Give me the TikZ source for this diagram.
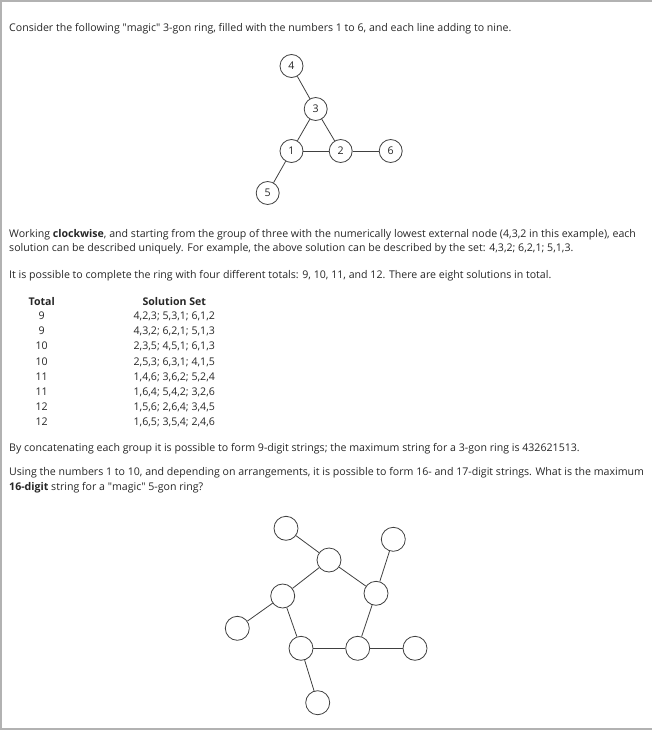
\documentclass[tikz,border=0pt]{standalone}
\usepackage{fontspec}
\setmainfont{Open Sans}
\newcommand{\bodyfont}{\fontsize{10.6bp}{12.5bp}\selectfont}
\newcommand{\qq}{\textquotedbl}
\begin{document}
\begin{tikzpicture}[x=1bp,y=-1bp,
  txt/.style={anchor=base west, inner sep=0, font=\bodyfont, text=black!85},
  ctxt/.style={anchor=base, inner sep=0, font=\bodyfont, text=black!85},
  cnode/.style={circle, draw=black!75, line width=0.8bp, fill=white, minimum size=23bp, inner sep=0, font=\bodyfont, text=black!85},
  link/.style={draw=black!75, line width=0.8bp}]
\useasboundingbox (0,0) rectangle (652,730);
\draw[black!30, line width=1.5bp] (652,1) -- (0.75,1) -- (0.75,729) -- (652,729);

\node[txt] (t1) at (9,31.5) {Consider the following \qq magic\qq{} 3-gon ring, filled with the numbers 1 to 6, and each line adding to nine.};

% 3-gon ring
\node[cnode] (n4) at (291.5,66) {4};
\node[cnode] (n3) at (315.7,109) {3};
\node[cnode] (n1) at (291.5,151) {1};
\node[cnode] (n2) at (340.7,151) {2};
\node[cnode] (n6) at (390.7,151) {6};
\node[cnode] (n5) at (267.7,193) {5};
\draw[link] (n4) -- (n3);
\draw[link] (n3) -- (n2);
\draw[link] (n3) -- (n1);
\draw[link] (n1) -- (n2);
\draw[link] (n2) -- (n6);
\draw[link] (n1) -- (n5);

\node[txt] (t2) at (9,237) {Working \textbf{clockwise}, and starting from the group of three with the numerically lowest external node (4,3,2 in this example), each};
\node[txt] (t3) at (9,251.3) {solution can be described uniquely. For example, the above solution can be described by the set: 4,3,2; 6,2,1; 5,1,3.};
\node[txt] (t4) at (9,278.7) {It is possible to complete the ring with four different totals: 9, 10, 11, and 12. There are eight solutions in total.};

% table
\node[ctxt] (h1) at (41.7,305.7) {\textbf{Total}};
\node[ctxt] (h2) at (174.3,305.7) {\textbf{Solution Set}};
\node[ctxt] (r1a) at (41.7,319.3) {9};  \node[ctxt] (r1b) at (174.3,319.3) {4,2,3; 5,3,1; 6,1,2};
\node[ctxt] (r2a) at (41.7,334.6) {9};  \node[ctxt] (r2b) at (174.3,334.6) {4,3,2; 6,2,1; 5,1,3};
\node[ctxt] (r3a) at (41.7,349.9) {10}; \node[ctxt] (r3b) at (174.3,349.9) {2,3,5; 4,5,1; 6,1,3};
\node[ctxt] (r4a) at (41.7,365.0) {10}; \node[ctxt] (r4b) at (174.3,365.0) {2,5,3; 6,3,1; 4,1,5};
\node[ctxt] (r5a) at (41.7,380.0) {11}; \node[ctxt] (r5b) at (174.3,380.0) {1,4,6; 3,6,2; 5,2,4};
\node[ctxt] (r6a) at (41.7,395.0) {11}; \node[ctxt] (r6b) at (174.3,395.0) {1,6,4; 5,4,2; 3,2,6};
\node[ctxt] (r7a) at (41.7,410.0) {12}; \node[ctxt] (r7b) at (174.3,410.0) {1,5,6; 2,6,4; 3,4,5};
\node[ctxt] (r8a) at (41.7,425.0) {12}; \node[ctxt] (r8b) at (174.3,425.0) {1,6,5; 3,5,4; 2,4,6};

\node[txt] (t5) at (9,451) {By concatenating each group it is possible to form 9-digit strings; the maximum string for a 3-gon ring is 432621513.};
\node[txt] (t6) at (9,475.3) {Using the numbers 1 to 10, and depending on arrangements, it is possible to form 16- and 17-digit strings. What is the maximum};
\node[txt] (t7) at (9,490.3) {\textbf{16-digit} string for a \qq magic\qq{} 5-gon ring?};

% 5-gon ring
\node[cnode, minimum size=24bp] (a1) at (286,528.3) {};
\node[cnode, minimum size=24bp] (b1) at (329,560) {};
\node[cnode, minimum size=24bp] (a2) at (393.3,539.3) {};
\node[cnode, minimum size=24bp] (b2) at (376,593.3) {};
\node[cnode, minimum size=24bp] (b5) at (282.7,596) {};
\node[cnode, minimum size=24bp] (a5) at (237.3,628.3) {};
\node[cnode, minimum size=24bp] (b4) at (301,648.3) {};
\node[cnode, minimum size=24bp] (b3) at (357.7,648.3) {};
\node[cnode, minimum size=24bp] (a3) at (415,648.3) {};
\node[cnode, minimum size=24bp] (a4) at (317.7,702.7) {};
\draw[link] (a1) -- (b1);
\draw[link] (b1) -- (b2);
\draw[link] (a2) -- (b2);
\draw[link] (b2) -- (b3);
\draw[link] (b3) -- (a3);
\draw[link] (b3) -- (b4);
\draw[link] (b4) -- (a4);
\draw[link] (b4) -- (b5);
\draw[link] (b5) -- (a5);
\draw[link] (b5) -- (b1);
\end{tikzpicture}
\end{document}
